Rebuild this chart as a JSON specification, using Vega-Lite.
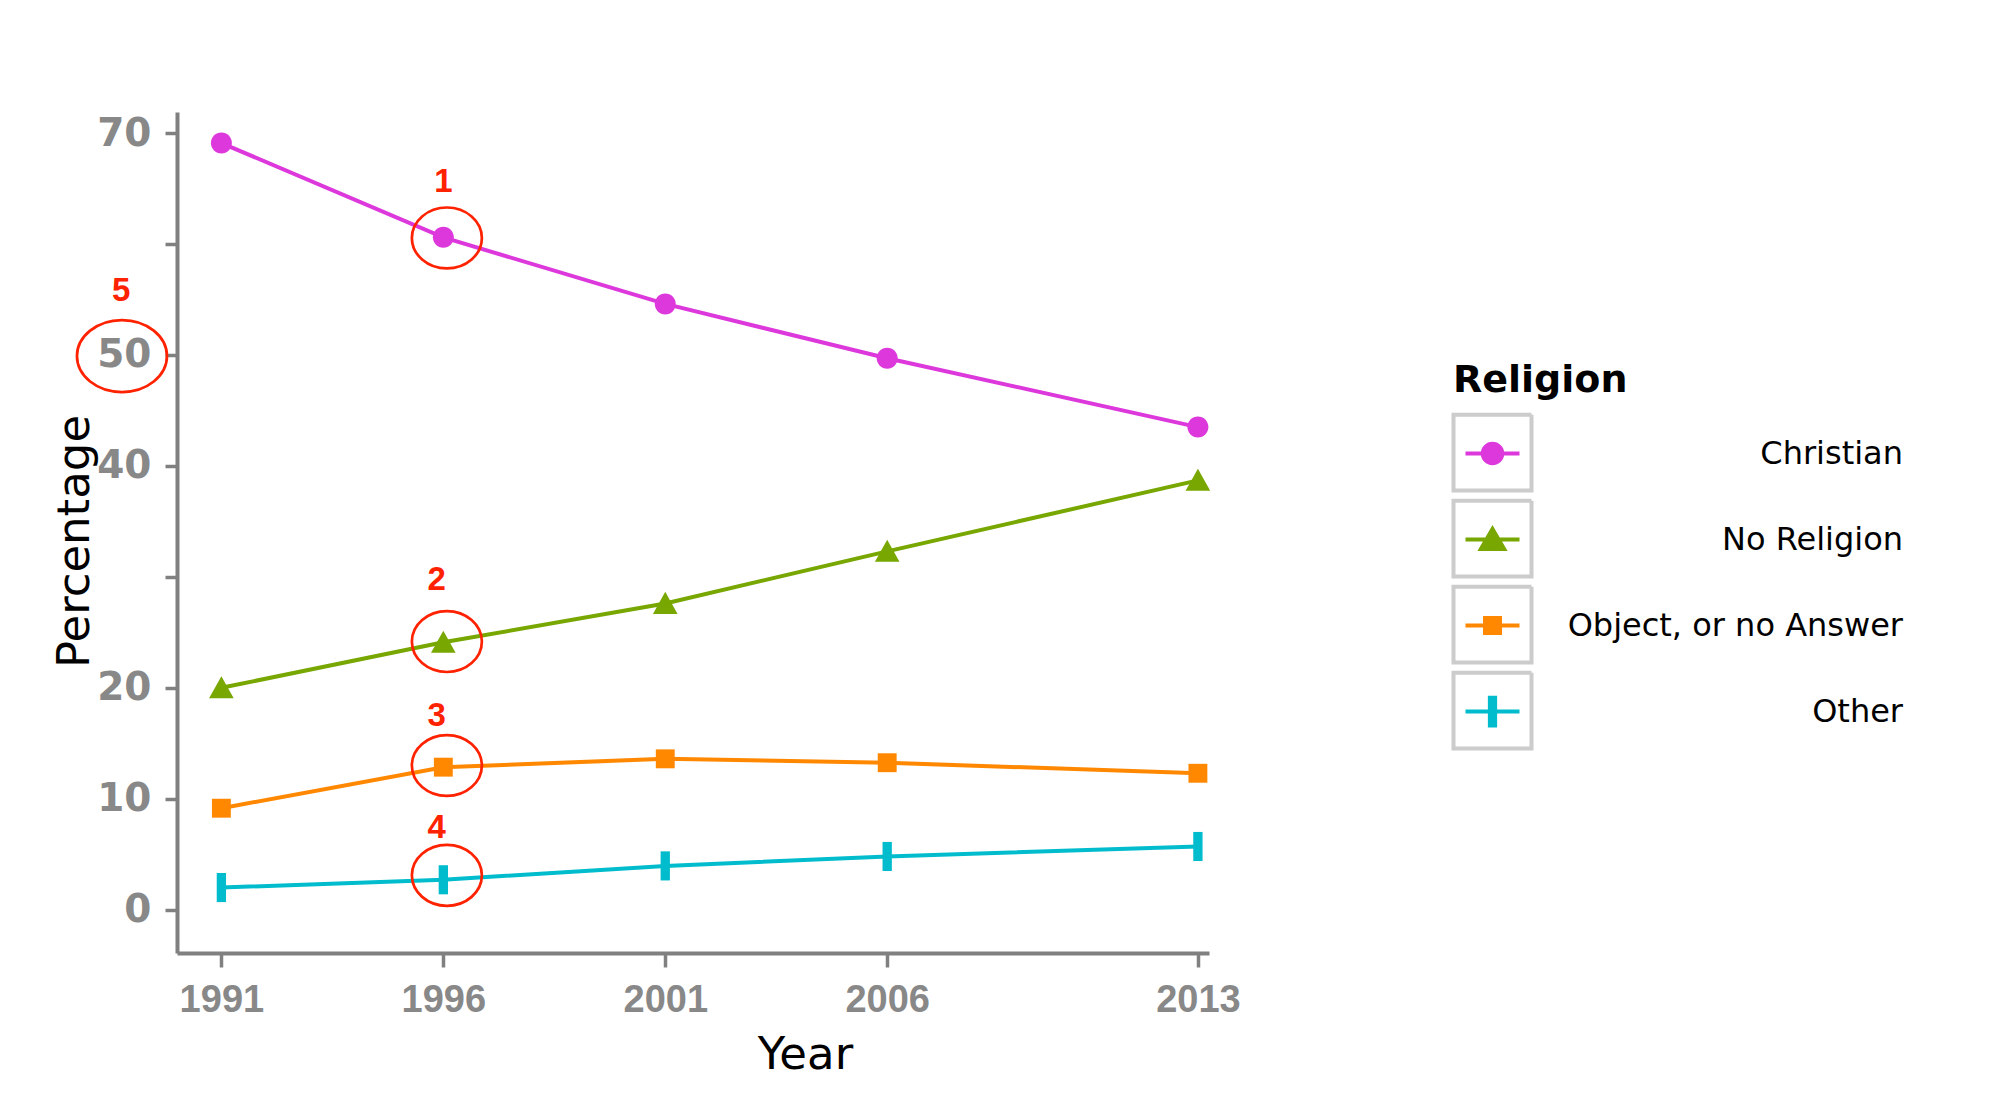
{
  "$schema": "https://vega.github.io/schema/vega-lite/v6.json",
  "width": 1032,
  "height": 841,
  "autosize": {"type": "none"},
  "padding": {"left": 177, "top": 112, "right": 791, "bottom": 166},
  "background": "white",
  "config": {"view": {"stroke": null}, "axis": {"grid": false}},
  "datasets": {
    "census": [
      {"Year": 1991, "Religion": "Christian", "Percentage": 69.1},
      {"Year": 1996, "Religion": "Christian", "Percentage": 60.6},
      {"Year": 2001, "Religion": "Christian", "Percentage": 54.6},
      {"Year": 2006, "Religion": "Christian", "Percentage": 49.7},
      {"Year": 2013, "Religion": "Christian", "Percentage": 43.5},
      {"Year": 1991, "Religion": "No Religion", "Percentage": 20.0},
      {"Year": 1996, "Religion": "No Religion", "Percentage": 24.1},
      {"Year": 2001, "Religion": "No Religion", "Percentage": 27.6},
      {"Year": 2006, "Religion": "No Religion", "Percentage": 32.3},
      {"Year": 2013, "Religion": "No Religion", "Percentage": 38.7},
      {"Year": 1991, "Religion": "Object, or no Answer", "Percentage": 9.15},
      {"Year": 1996, "Religion": "Object, or no Answer", "Percentage": 12.85},
      {"Year": 2001, "Religion": "Object, or no Answer", "Percentage": 13.6},
      {"Year": 2006, "Religion": "Object, or no Answer", "Percentage": 13.25},
      {"Year": 2013, "Religion": "Object, or no Answer", "Percentage": 12.3},
      {"Year": 1991, "Religion": "Other", "Percentage": 2.0},
      {"Year": 1996, "Religion": "Other", "Percentage": 2.7},
      {"Year": 2001, "Religion": "Other", "Percentage": 3.95},
      {"Year": 2006, "Religion": "Other", "Percentage": 4.8},
      {"Year": 2013, "Religion": "Other", "Percentage": 5.7}
    ],
    "notes": [
      {"label": "1", "ex": 1996.08, "ey": 60.55, "tx": 1996.0, "ty": 65.6},
      {"label": "2", "ex": 1996.08, "ey": 24.17, "tx": 1995.85, "ty": 29.7},
      {"label": "3", "ex": 1996.08, "ey": 13.0, "tx": 1995.85, "ty": 17.5},
      {"label": "4", "ex": 1996.08, "ey": 3.1, "tx": 1995.85, "ty": 7.35},
      {"label": "5", "ex": 1988.76, "ey": 49.9, "tx": 1988.74, "ty": 55.8}
    ]
  },
  "resolve": {"scale": {"color": "independent", "shape": "independent", "stroke": "independent", "strokeDash": "independent"}},
  "layer": [
    {
      "data": {"name": "census"},
      "mark": {"type": "line", "strokeWidth": 4},
      "encoding": {
        "x": {
          "field": "Year", "type": "quantitative",
          "scale": {"domain": [1990, 2013.25], "nice": false, "zero": false},
          "axis": {
            "title": "Year", "values": [1991, 1996, 2001, 2006, 2013], "format": "d",
            "labelFont": "Liberation Sans", "labelFontWeight": "bold", "labelFontSize": 38, "labelColor": "#888888",
            "labelPadding": 14, "tickSize": 14, "tickWidth": 3.5, "tickColor": "#808080",
            "domainColor": "#808080", "domainWidth": 4, "labelFlush": false,
            "titleFont": "DejaVu Sans", "titleFontSize": 45, "titleFontWeight": "normal", "titleColor": "black",
            "titleX": 628, "titleY": 115, "titleBaseline": "alphabetic", "titleAlign": "center"
          }
        },
        "y": {
          "field": "Percentage", "type": "quantitative",
          "scale": {"domain": [-3.9, 71.9], "nice": false, "zero": false},
          "axis": {
            "title": "Percentage", "values": [0, 10, 20, 30, 40, 50, 60, 70],
            "labelExpr": "datum.value == 30 || datum.value == 60 ? '' : datum.label",
            "labelFont": "DejaVu Sans", "labelFontWeight": "bold", "labelFontSize": 39, "labelColor": "#888888",
            "labelPadding": 14, "tickSize": 12, "tickWidth": 3.5, "tickColor": "#808080",
            "domainColor": "#808080", "domainWidth": 4, "labelFlush": false,
            "titleFont": "DejaVu Sans", "titleFontSize": 45, "titleFontWeight": "normal", "titleColor": "black",
            "titleAngle": -90, "titleX": -89, "titleY": 429, "titleBaseline": "alphabetic", "titleAlign": "center"
          }
        },
        "color": {
          "field": "Religion", "type": "nominal",
          "scale": {"domain": ["Christian", "No Religion", "Object, or no Answer", "Other"], "range": ["#dd38dc", "#77a700", "#ff8800", "#00bccc"]},
          "legend": null
        },
        "detail": {"field": "Religion"}
      }
    },
    {
      "data": {"name": "census"},
      "mark": {"type": "point", "filled": true, "opacity": 1, "size": 900},
      "encoding": {
        "x": {"field": "Year", "type": "quantitative"},
        "y": {"field": "Percentage", "type": "quantitative"},
        "shape": {
          "field": "Religion", "type": "nominal",
          "scale": {"domain": ["Christian", "No Religion", "Object, or no Answer", "Other"],
            "range": [
              "M-0.7,0A0.7,0.7,0,1,1,0.7,0A0.7,0.7,0,1,1,-0.7,0Z",
              "M0,-0.78L0.82,0.7L-0.82,0.7Z",
              "M-0.63,-0.63H0.63V0.63H-0.63Z",
              "M-0.31,-0.97H0.31V0.97H-0.31Z"
            ]},
          "legend": null
        },
        "color": {
          "field": "Religion", "type": "nominal",
          "scale": {"domain": ["Christian", "No Religion", "Object, or no Answer", "Other"], "range": ["#dd38dc", "#77a700", "#ff8800", "#00bccc"]},
          "legend": null
        }
      }
    },
    {
      "data": {"name": "census"},
      "transform": [{"filter": "false"}],
      "mark": {"type": "point", "filled": true, "opacity": 1},
      "encoding": {
        "shape": {
          "field": "Religion", "type": "nominal",
          "scale": {"domain": ["Christian", "No Religion", "Object, or no Answer", "Other"],
            "range": [
              "M0,-1.01M0,1.01M-0.72,0H0.72M-0.26,0A0.26,0.26,0,1,1,0.26,0A0.26,0.26,0,1,1,-0.26,0Z",
              "M0,-1.01M0,1.01M-0.72,0H0.72M0,-0.28L0.31,0.25L-0.31,0.25Z",
              "M0,-1.01M0,1.01M-0.72,0H0.72M-0.2,-0.2H0.2V0.2H-0.2Z",
              "M0,-1.01M0,1.01M-0.72,0H0.72M-0.07,-0.37H0.07V0.37H-0.07Z"
            ]}
        },
        "stroke": {
          "field": "Religion", "type": "nominal",
          "scale": {"domain": ["Christian", "No Religion", "Object, or no Answer", "Other"], "range": ["#dd38dc", "#77a700", "#ff8800", "#00bccc"]}
        },
        "color": {
          "field": "Religion", "type": "nominal",
          "scale": {"domain": ["Christian", "No Religion", "Object, or no Answer", "Other"], "range": ["#dd38dc", "#77a700", "#ff8800", "#00bccc"]},
          "legend": {
            "orient": "none", "legendX": 1276, "legendY": 250,
            "title": "Religion", "titleFont": "DejaVu Sans", "titleFontSize": 38, "titleFontWeight": "bold", "titleColor": "black", "titlePadding": 14,
            "labelFont": "DejaVu Sans", "labelFontSize": 32, "labelColor": "black", "labelAlign": "right", "labelOffset": 371, "labelLimit": 1000,
            "symbolSize": 5625, "symbolStrokeWidth": 4, "symbolOpacity": 1, "rowPadding": -17, "padding": 0
          }
        }
      }
    },
    {
      "data": {"name": "census"},
      "transform": [{"filter": "false"}],
      "mark": {"type": "point", "filled": false, "stroke": "#cccccc", "strokeWidth": 4, "opacity": 1},
      "encoding": {
        "strokeDash": {
          "field": "Religion", "type": "nominal",
          "scale": {"domain": ["Christian", "No Religion", "Object, or no Answer", "Other"], "range": [[1, 0], [1, 0], [1, 0], [1, 0]]},
          "legend": {
            "orient": "none", "legendX": 1276, "legendY": 301,
            "title": null, "labelExpr": "''", "labelOffset": 0,
            "symbolType": "M-1.04,-1.01H1.04V1.01H-1.04Z", "symbolSize": 5625, "symbolStrokeWidth": 4,
            "symbolStrokeColor": "#cccccc", "symbolFillColor": "transparent", "symbolOpacity": 1,
            "rowPadding": -17, "padding": 0
          }
        }
      }
    },
    {
      "data": {"name": "notes"},
      "transform": [{"filter": "datum.label != '5'"}],
      "mark": {"type": "point", "shape": "M-1,0A1,0.87,0,1,1,1,0A1,0.87,0,1,1,-1,0Z", "size": 4900, "filled": false, "stroke": "#ff2200", "strokeWidth": 2.7, "opacity": 1},
      "encoding": {
        "x": {"field": "ex", "type": "quantitative"},
        "y": {"field": "ey", "type": "quantitative"}
      }
    },
    {
      "data": {"name": "notes"},
      "transform": [{"filter": "datum.label == '5'"}],
      "mark": {"type": "point", "shape": "M-1,0A1,0.8,0,1,1,1,0A1,0.8,0,1,1,-1,0Z", "size": 8100, "filled": false, "stroke": "#ff2200", "strokeWidth": 2.7, "opacity": 1},
      "encoding": {
        "x": {"field": "ex", "type": "quantitative"},
        "y": {"field": "ey", "type": "quantitative"}
      }
    },
    {
      "data": {"name": "notes"},
      "mark": {"type": "text", "font": "Liberation Sans", "fontWeight": "bold", "fontSize": 33, "color": "#ff2200", "align": "center", "baseline": "middle"},
      "encoding": {
        "x": {"field": "tx", "type": "quantitative"},
        "y": {"field": "ty", "type": "quantitative"},
        "text": {"field": "label"}
      }
    }
  ]
}
